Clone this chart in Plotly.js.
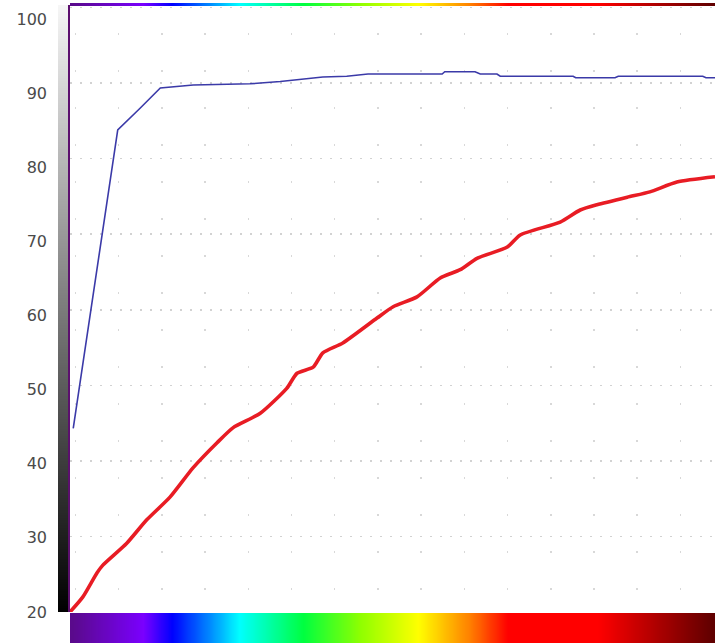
<!DOCTYPE html>
<html>
<head>
<meta charset="utf-8">
<script src="https://cdn.plot.ly/plotly-3.0.1.min.js"></script>
<style>html,body{margin:0;padding:0;background:#fff;}#chart{width:715px;height:643px;}</style>
</head>
<body>
<div id="chart"></div>
<script>
// ---- data ----
const xBlue = [0.5, 7.4, 10.9, 14.0, 19.1, 27.9, 32.6, 36.0, 39.2, 42.9, 46.2, 57.7, 58.1, 62.8, 63.6, 66.2, 66.7, 78.0, 78.4, 84.5, 85.0, 98.1, 98.6, 100];
const yBlue = [44.3, 83.8, 86.7, 89.35, 89.75, 89.9, 90.2, 90.5, 90.8, 90.9, 91.2, 91.2, 91.5, 91.5, 91.2, 91.2, 90.9, 90.9, 90.7, 90.7, 90.9, 90.9, 90.7, 90.7];

const xRed = [0, 2.0, 4.2, 5.1, 8.8, 11.9, 15.5, 19.1, 22.8, 25.3, 29.5, 33.6, 35.2, 37.7, 39.2, 42.3, 47.6, 50.1, 53.8, 57.4, 60.5, 63.1, 67.8, 69.8, 76.0, 79.1, 81.7, 86.4, 89.9, 94.1, 100];
const yRed = [20, 22.0, 25.2, 26.2, 29.1, 32.2, 35.2, 39.1, 42.4, 44.4, 46.3, 49.6, 51.6, 52.4, 54.3, 55.6, 58.9, 60.4, 61.7, 64.2, 65.3, 66.8, 68.3, 69.9, 71.6, 73.2, 73.9, 74.9, 75.6, 76.9, 77.6];

const yTickVals = [20, 30, 40, 50, 60, 70, 80, 90, 100];
const yTickText = ['20', '30', '40', '50', '60', '70', '80', '90', '100'];

// ---- decorative colour ramps ----
const rampSteps = 120;
const rampRow = [];
for (let i = 0; i < rampSteps; i++) rampRow.push(i / (rampSteps - 1));
const grayCol = rampRow.map(v => [v]);

const rainbow = [[0,'#5a0a8c'],[0.11,'#7a00ff'],[0.155,'#0000ff'],[0.21,'#0080ff'],[0.26,'#00ffff'],
  [0.36,'#00ff40'],[0.45,'#90ff00'],[0.54,'#ffff00'],[0.62,'#ff8000'],[0.68,'#ff0000'],[0.82,'#ff0000'],[1,'#600000']];

const traces = [
  {type:'heatmap', z:[rampRow], xaxis:'x2', yaxis:'y2', colorscale:rainbow, showscale:false, hoverinfo:'skip', zsmooth:'best'},
  {type:'heatmap', z:[rampRow], xaxis:'x2', yaxis:'y4', colorscale:rainbow, showscale:false, hoverinfo:'skip', zsmooth:'best'},
  {type:'heatmap', z:grayCol, y0:20, dy:(101.9-20)/(rampSteps-1), xaxis:'x3', yaxis:'y3',
    colorscale:[[0,'#000000'],[1,'#f6f6f6']], showscale:false, hoverinfo:'skip', zsmooth:'best'},
  {type:'scatter', mode:'lines', x:xBlue, y:yBlue, line:{color:'#3b3aa8', width:1.6}, hoverinfo:'skip'},
  {type:'scatter', mode:'lines', x:xRed, y:yRed, line:{color:'#e81c24', width:3.6, shape:'spline', smoothing:0.6}, hoverinfo:'skip'}
];

const mainY = [31/643, 638/643];
const layout = {
  width:715, height:643,
  margin:{l:58, r:0, t:0, b:0, pad:0},
  paper_bgcolor:'#ffffff', plot_bgcolor:'#ffffff',
  showlegend:false,
  xaxis:{domain:[12/657, 1], range:[0,100], showticklabels:false, zeroline:false, showline:false,
    showgrid:true, tick0:0.84, dtick:6.7, gridcolor:'#d8d8d8', gridwidth:1.5, griddash:'0px,28px,2px,7px', ticks:''},
  yaxis:{domain:mainY, range:[20,100.33], showticklabels:false, zeroline:false,
    showline:true, linecolor:'#5c0f6e', linewidth:3,
    showgrid:true, tickvals:yTickVals, gridcolor:'#d2d2d2', gridwidth:1.5, griddash:'2px,8px', ticks:''},
  xaxis2:{domain:[12/657, 1], range:[-0.5, rampSteps-0.5], visible:false, anchor:'y2'},
  yaxis2:{domain:[0, 30/643], range:[-0.5,0.5], visible:false, anchor:'x2'},
  yaxis4:{domain:[637/643, 640/643], range:[-0.5,0.5], visible:false, anchor:'x2'},
  xaxis3:{domain:[0, 10/657], range:[-0.5,0.5], visible:false, anchor:'y3'},
  yaxis3:{domain:mainY, range:[20,101.9], anchor:'x3', showgrid:false, zeroline:false, showline:false,
    tickvals:yTickVals, ticktext:yTickText, ticks:'', ticklabelstandoff:10,
    tickfont:{family:'DejaVu Sans', size:16, color:'#4a4a4a'}}
};

Plotly.newPlot('chart', traces, layout, {staticPlot:true, displayModeBar:false});
</script>
</body>
</html>
